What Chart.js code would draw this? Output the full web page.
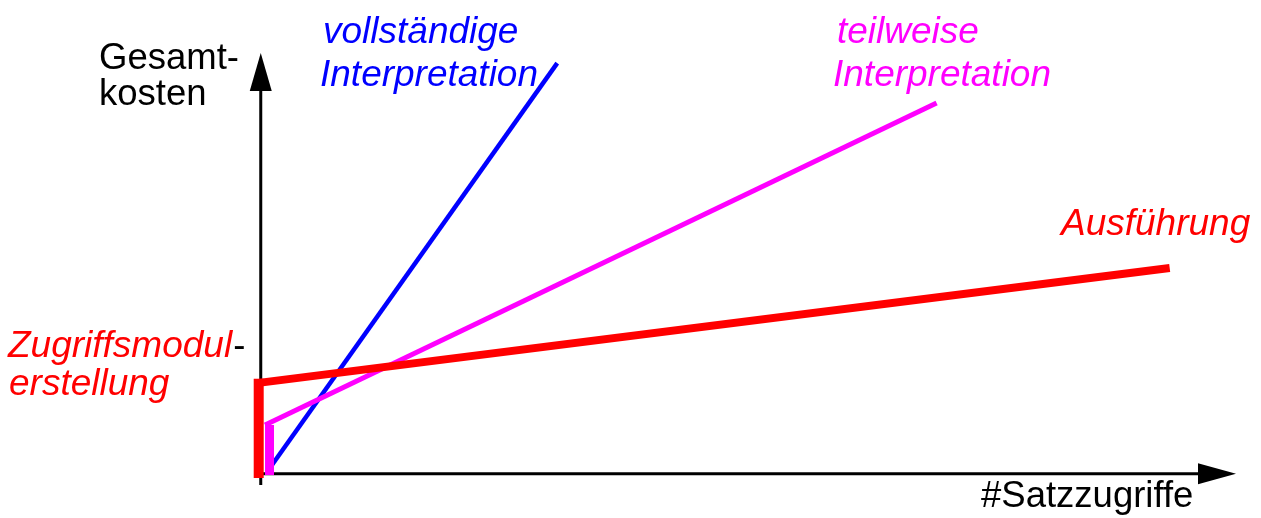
<!DOCTYPE html>
<html lang="de">
<head>
    <meta charset="UTF-8">
    <title>Gesamtkosten</title>
    <script src="https://cdn.jsdelivr.net/npm/chart.js"></script>
    <style>
        body {
            margin: 0;
            background: #fff;
        }
        canvas {
            display: block;
        }
    </style>
</head>
<body>

<canvas id="myChart" width="1261" height="518"></canvas>

<script>
// Werte (willkürliche Einheiten, 0..100)
const xMin = -1, xMax = 100;
const yMin = -1, yMax = 100;

const vollX = [0.64, 30.4];
const vollY = [0.43, 97.6];

const teilX = [0.44, 69.3];
const teilY = [11.6, 88.1];

const teilStartX = [0.9, 0.9];
const teilStartY = [-0.3, 11.6];

const erstellX = [-0.21, -0.21];
const erstellY = [-1, 22.6];

const ausfX = [-0.21, 93.2];
const ausfY = [21.6, 48.9];

function pts(xs, ys) {
    return xs.map((x, i) => ({ x: x, y: ys[i] }));
}

const FONT = '36.5px "Liberation Sans", Arial, sans-serif';
const FONT_IT = 'italic 37px "Liberation Sans", Arial, sans-serif';

// Beschriftungen
const labels = [
    { text: 'Gesamt-', x: 99, y: 69, color: '#000', font: FONT },
    { text: 'kosten', x: 99, y: 105, color: '#000', font: FONT },
    { text: 'vollständige', x: 323, y: 43, color: '#0000ff', font: FONT_IT },
    { text: 'Interpretation', x: 320, y: 86, color: '#0000ff', font: FONT_IT },
    { text: 'teilweise', x: 837, y: 43, color: '#ff00ff', font: FONT_IT },
    { text: 'Interpretation', x: 833, y: 86, color: '#ff00ff', font: FONT_IT },
    { text: 'Ausführung', x: 1061, y: 235, color: '#ff0000', font: FONT_IT },
    { text: 'Zugriffsmodul', x: 8, y: 357, color: '#ff0000', font: FONT_IT },
    { text: 'erstellung', x: 9, y: 395, color: '#ff0000', font: FONT_IT },
    { text: '#Satzzugriffe', x: 981, y: 507, color: '#000', font: FONT }
];

const axesPlugin = {
    id: 'axes',
    beforeDatasetsDraw(chart) {
        const ctx = chart.ctx;
        const xs = chart.scales.x, ys = chart.scales.y;
        const ox = xs.getPixelForValue(0);
        const oy = ys.getPixelForValue(0);
        ctx.save();
        ctx.strokeStyle = '#000';
        ctx.fillStyle = '#000';
        ctx.lineWidth = 3;
        // y-Achse
        ctx.beginPath();
        ctx.moveTo(ox, 485);
        ctx.lineTo(ox, 90);
        ctx.stroke();
        ctx.beginPath();
        ctx.moveTo(ox, 53);
        ctx.lineTo(ox - 11, 91);
        ctx.lineTo(ox + 11, 91);
        ctx.closePath();
        ctx.fill();
        // x-Achse
        ctx.beginPath();
        ctx.moveTo(ox, oy);
        ctx.lineTo(1199, oy);
        ctx.stroke();
        ctx.beginPath();
        ctx.moveTo(1236, oy);
        ctx.lineTo(1198, oy - 10.5);
        ctx.lineTo(1198, oy + 10.5);
        ctx.closePath();
        ctx.fill();
        ctx.restore();
    },
    afterDraw(chart) {
        const ctx = chart.ctx;
        ctx.save();
        ctx.textBaseline = 'alphabetic';
        ctx.textAlign = 'left';
        labels.forEach(l => {
            ctx.font = l.font;
            ctx.fillStyle = l.color;
            ctx.fillText(l.text, l.x, l.y);
            if (l.text === 'Zugriffsmodul') {
                const w = ctx.measureText(l.text).width;
                ctx.font = FONT;
                ctx.fillStyle = '#000';
                ctx.fillText('-', l.x + w + 1, l.y);
            }
        });
        ctx.restore();
    }
};

function lineSet(label, data, color, width) {
    return {
        label: label,
        data: data,
        showLine: true,
        borderColor: color,
        backgroundColor: color,
        borderWidth: width,
        borderCapStyle: 'butt',
        pointRadius: 0,
        pointHoverRadius: 0,
        clip: false
    };
}

const ctx = document.getElementById('myChart').getContext('2d');
new Chart(ctx, {
    type: 'scatter',
    data: {
        datasets: [
            lineSet('Zugriffsmodulerstellung', pts(erstellX, erstellY), '#ff0000', 10),
            lineSet('Ausführung', pts(ausfX, ausfY), '#ff0000', 8),
            lineSet('teilweise Interpretation (Start)', pts(teilStartX, teilStartY), '#ff00ff', 9),
            lineSet('teilweise Interpretation', pts(teilX, teilY), '#ff00ff', 5),
            lineSet('vollständige Interpretation', pts(vollX, vollY), '#0000ff', 4.5)
        ]
    },
    options: {
        responsive: false,
        animation: false,
        layout: {
            padding: { left: 251, right: 25, top: 53, bottom: 40 }
        },
        scales: {
            x: { type: 'linear', min: xMin, max: xMax, display: false },
            y: { type: 'linear', min: yMin, max: yMax, display: false }
        },
        plugins: {
            legend: { display: false },
            tooltip: { enabled: false }
        }
    },
    plugins: [axesPlugin]
});
</script>

</body>
</html>
